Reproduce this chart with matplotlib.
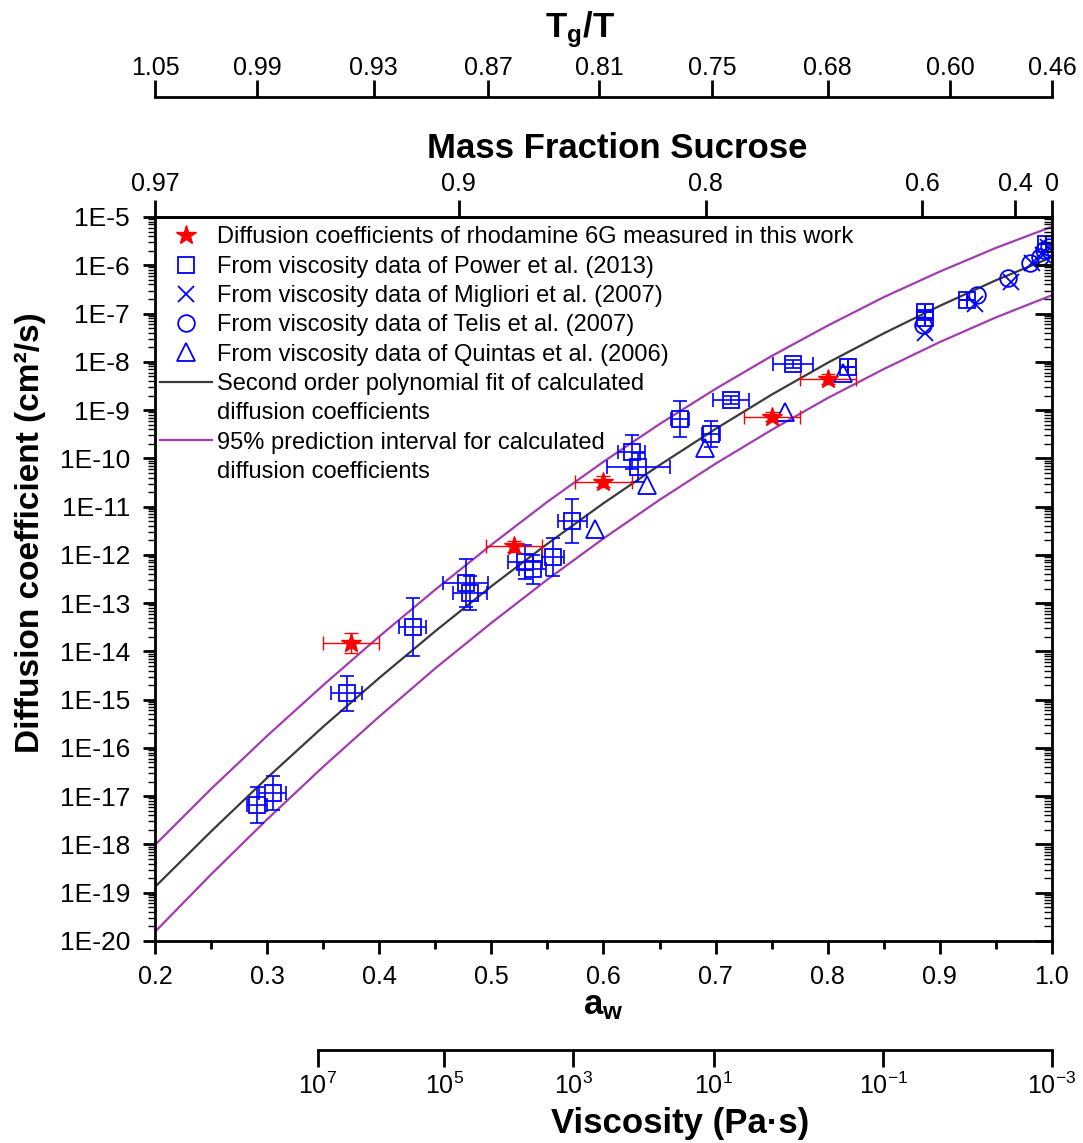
import numpy as np
import matplotlib
matplotlib.use('Agg')
import matplotlib.pyplot as plt
from matplotlib.lines import Line2D
from matplotlib.ticker import LogLocator, FuncFormatter, MultipleLocator, NullFormatter

plt.rcParams['font.family'] = ['Liberation Sans', 'DejaVu Sans']
plt.rcParams['mathtext.fontset'] = 'custom'
plt.rcParams['mathtext.rm'] = 'Liberation Sans'
plt.rcParams['mathtext.bf'] = 'Liberation Sans:bold'
plt.rcParams['mathtext.it'] = 'Liberation Sans:italic'

# fitted curve and 95% prediction band, log10(D) read at these aw values
curve_aw = [0.20, 0.25, 0.30, 0.35, 0.40, 0.45, 0.50, 0.55, 0.60,
            0.65, 0.70, 0.75, 0.80, 0.85, 0.90, 0.95, 1.00]
fit_logD = [-18.88, -17.73, -16.62, -15.56, -14.55, -13.58, -12.65, -11.77, -10.93,
            -10.14, -9.39, -8.68, -8.02, -7.41, -6.84, -6.31, -5.83]
upper_logD = [-18.01, -16.85, -15.75, -14.70, -13.69, -12.72, -11.79, -10.90, -10.07,
              -9.29, -8.56, -7.88, -7.25, -6.66, -6.13, -5.64, -5.20]
lower_logD = [-19.81, -18.62, -17.48, -16.39, -15.35, -14.35, -13.41, -12.51, -11.66,
              -10.86, -10.11, -9.41, -8.75, -8.15, -7.59, -7.08, -6.62]

# rhodamine 6G, this work
r6g_aw = [0.375, 0.52, 0.60, 0.75, 0.80]
r6g_D = [1.5e-14, 1.5e-12, 3.3e-11, 7.3e-10, 4.4e-9]
r6g_aw_err = [0.025, 0.025, 0.025, 0.025, 0.025]
r6g_dec_err = [0.2, 0.12, 0.12, 0.1, 0.1]

# Power et al. (2013)
power_aw = [0.291, 0.305, 0.371, 0.430, 0.477, 0.481, 0.530, 0.537, 0.555, 0.572,
            0.625, 0.631, 0.668, 0.696, 0.714, 0.769, 0.818, 0.887, 0.887, 0.924, 0.995]
power_D = [6.6e-18, 1.15e-17, 1.35e-15, 3.2e-14, 2.6e-13, 1.6e-13, 7.0e-13, 5.0e-13, 9.0e-13, 5.0e-12,
           1.35e-10, 6.6e-11, 6.6e-10, 3.2e-10, 1.6e-9, 8.9e-9, 7.9e-9, 1.07e-7, 8.0e-8, 1.9e-7, 2.8e-6]
power_aw_err = [0.009, 0.012, 0.014, 0.012, 0.02, 0.015, 0.015, 0.012, 0.01, 0.013,
                0.012, 0.028, 0.008, 0.008, 0.016, 0.018, 0.0, 0.0, 0.0, 0.0, 0.0]
power_dec_err = [0.38, 0.35, 0.36, 0.6, 0.5, 0.35, 0.35, 0.3, 0.4, 0.45,
                 0.35, 0.3, 0.37, 0.27, 0.08, 0.08, 0.0, 0.0, 0.0, 0.0, 0.0]

# Migliori et al. (2007)
migl_aw = [0.887, 0.931, 0.963, 0.982, 0.992, 0.996]
migl_D = [4.0e-8, 1.6e-7, 4.6e-7, 1.1e-6, 1.6e-6, 2.4e-6]

# Telis et al. (2007)
telis_aw = [0.885, 0.933, 0.961, 0.980, 0.989, 0.993, 0.997]
telis_D = [5.8e-8, 2.4e-7, 5.4e-7, 1.1e-6, 1.5e-6, 2.1e-6, 2.4e-6]

# Quintas et al. (2006)
quin_aw = [0.5925, 0.6385, 0.6905, 0.762, 0.814]
quin_D = [3.5e-12, 2.8e-11, 1.6e-10, 9.3e-10, 5.8e-9]

# extra axes: tick positions (in aw) and labels
tg_aw = [0.2, 0.291, 0.395, 0.497, 0.596, 0.697, 0.80, 0.909, 1.0]
tg_labels = ['1.05', '0.99', '0.93', '0.87', '0.81', '0.75', '0.68', '0.60', '0.46']
mf_aw = [0.2, 0.471, 0.691, 0.884, 0.967, 1.0]
mf_labels = ['0.97', '0.9', '0.8', '0.6', '0.4', '0']
visc_aw = [0.345, 0.458, 0.573, 0.6985, 0.8495, 1.0]
visc_labels = [r'$10^{7}$', r'$10^{5}$', r'$10^{3}$', r'$10^{1}$', r'$10^{-1}$', r'$10^{-3}$']

BLUE = '#0000ff'
RED = '#ff0000'
PURPLE = '#a23cb0'
W, H = 1083, 1143

fig = plt.figure(figsize=(W / 100, H / 100), dpi=100)
ax = fig.add_axes([155 / W, 1 - 941 / H, 897 / W, 724 / H])

ax.plot(curve_aw, 10 ** np.array(upper_logD), color=PURPLE, lw=1.6)
ax.plot(curve_aw, 10 ** np.array(lower_logD), color=PURPLE, lw=1.6)
ax.plot(curve_aw, 10 ** np.array(fit_logD), color='#3a3a3a', lw=1.6)


def yerr_from_dec(D, dec):
    D = np.array(D)
    dec = np.array(dec)
    return [D - D * 10 ** (-dec), D * 10 ** dec - D]


ax.errorbar(power_aw, power_D, xerr=power_aw_err, yerr=yerr_from_dec(power_D, power_dec_err),
            fmt='none', ecolor=BLUE, elinewidth=1.2, capsize=5, capthick=1.2)
ax.errorbar(r6g_aw, r6g_D, xerr=r6g_aw_err, yerr=yerr_from_dec(r6g_D, r6g_dec_err),
            fmt='none', ecolor=RED, elinewidth=1.0, capsize=5, capthick=1.0)

ax.plot(power_aw, power_D, 's', mfc='none', mec=BLUE, ms=11, mew=1.3)
ax.plot(migl_aw, migl_D, 'x', color=BLUE, ms=12, mew=1.3)
ax.plot(telis_aw, telis_D, 'o', mfc='none', mec=BLUE, ms=12, mew=1.3)
ax.plot(quin_aw, quin_D, '^', mfc='none', mec=BLUE, ms=13, mew=1.3)
ax.plot(r6g_aw, r6g_D, '*', color=RED, ms=15)

ax.set_xlim(0.2, 1.0)
ax.set_yscale('log')
ax.set_ylim(1e-20, 1e-5)

blank = Line2D([], [], color='none')
handles = [
    Line2D([], [], ls='none', marker='*', color=RED, ms=15),
    Line2D([], [], ls='none', marker='s', mfc='none', mec=BLUE, ms=11, mew=1.3),
    Line2D([], [], ls='none', marker='x', color=BLUE, ms=12, mew=1.3),
    Line2D([], [], ls='none', marker='o', mfc='none', mec=BLUE, ms=12, mew=1.3),
    Line2D([], [], ls='none', marker='^', mfc='none', mec=BLUE, ms=13, mew=1.3),
    Line2D([], [], color='#3a3a3a', lw=1.6),
    blank,
    Line2D([], [], color=PURPLE, lw=1.6),
    blank,
]
labels = [
    'Diffusion coefficients of rhodamine 6G measured in this work',
    'From viscosity data of Power et al. (2013)',
    'From viscosity data of Migliori et al. (2007)',
    'From viscosity data of Telis et al. (2007)',
    'From viscosity data of Quintas et al. (2006)',
    'Second order polynomial fit of calculated',
    'diffusion coefficients',
    '95% prediction interval for calculated',
    'diffusion coefficients',
]
ax.legend(handles, labels, loc='upper left', bbox_to_anchor=(-0.005, 1.0), frameon=False,
          fontsize=17, handlelength=2.2, handletextpad=0.2, labelspacing=0.31,
          borderaxespad=0.0, borderpad=0.4)

# spines and ticks of the main box
for s in ax.spines.values():
    s.set_linewidth(2)
ax.yaxis.set_major_locator(LogLocator(base=10, numticks=30))
ax.yaxis.set_minor_locator(LogLocator(base=10, subs=np.arange(2, 10), numticks=300))
ax.yaxis.set_minor_formatter(NullFormatter())
ax.yaxis.set_major_formatter(FuncFormatter(lambda v, p: f'1E{int(round(np.log10(v)))}'))
ax.tick_params(axis='y', which='major', direction='out', length=9, width=2, labelsize=19, pad=9)
ax.tick_params(axis='y', which='minor', direction='out', length=5, width=1)

ax.set_xticks(np.arange(0.2, 1.01, 0.1), [f'{v:.1f}' for v in np.arange(0.2, 1.01, 0.1)],
              fontsize=18)
ax.xaxis.set_minor_locator(MultipleLocator(0.05))
ax.tick_params(axis='x', which='major', direction='out', length=9, width=2, pad=8, top=False)
ax.tick_params(axis='x', which='minor', direction='out', length=6, width=2, top=False)

axr = ax.twinx()
axr.set_yscale('log')
axr.set_ylim(1e-20, 1e-5)
axr.yaxis.set_major_locator(LogLocator(base=10, numticks=30))
axr.yaxis.set_minor_locator(LogLocator(base=10, subs=np.arange(2, 10), numticks=300))
axr.tick_params(axis='y', which='major', direction='in', length=12, width=2, labelright=False)
axr.tick_params(axis='y', which='minor', direction='in', length=6, width=1)
for s in axr.spines.values():
    s.set_visible(False)

# mass fraction sucrose (top of box)
secm = ax.secondary_xaxis('top')
secm.set_ticks(mf_aw, mf_labels, fontsize=18)
secm.tick_params(direction='out', length=12, width=2, pad=3)
secm.spines['top'].set_linewidth(2)

# Tg/T floating axis
sect = ax.secondary_xaxis((941 - 97) / 724)
sect.set_ticks(tg_aw, tg_labels, fontsize=18)
sect.tick_params(direction='out', length=12, width=2, pad=0.5)
sect.spines['top'].set_linewidth(2)

# viscosity floating axis
secv = ax.secondary_xaxis((941 - 1050) / 724)
secv.set_ticks(visc_aw, visc_labels, fontsize=18)
secv.tick_params(direction='out', length=12, width=2, pad=4)
secv.spines['bottom'].set_linewidth(2)
secv.spines['bottom'].set_bounds(0.345, 1.0)

# axis titles
fig.text(30 / W, 1 - 533 / H, 'Diffusion coefficient (cm²/s)', rotation=90,
         fontsize=24, fontweight='bold', ha='center', va='center')
fig.text(617 / W, 1 - 148 / H, 'Mass Fraction Sucrose', fontsize=25, fontweight='bold',
         ha='center', va='center')
fig.text(580 / W, 1 - 30 / H, r'$\mathbf{T_g/T}$', fontsize=25, ha='center', va='center')
fig.text(603 / W, 1 - 1005 / H, r'$\mathbf{a_w}$', fontsize=25, ha='center', va='center')
fig.text(680 / W, 1 - 1123 / H, 'Viscosity (Pa·s)', fontsize=25, fontweight='bold',
         ha='center', va='center')

fig.savefig('out.png', dpi=100)
